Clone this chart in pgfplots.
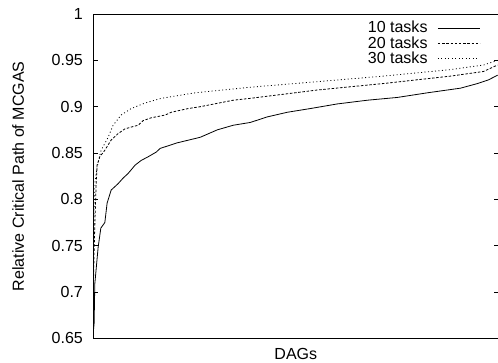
\documentclass[border=0pt]{standalone}
\usepackage{pgfplots}
\pgfplotsset{compat=1.18}
\usepackage{fontspec}
\setmainfont{Liberation Sans}
\begin{document}
\begin{tikzpicture}[font=\fontsize{16}{19}\selectfont]
\begin{axis}[
  scale only axis, width=405pt, height=324pt,
  xmin=0, xmax=405, ymin=0.65, ymax=1,
  xtick=\empty,
  ytick={0.65,0.7,0.75,0.8,0.85,0.9,0.95,1},
  yticklabels={0.65,0.7,0.75,0.8,0.85,0.9,0.95,1},
  tick align=inside, major tick length=5pt,
  ytick pos=both,
  tick style={black, line width=0.6pt},
  axis line style={line width=1pt},
  yticklabel style={inner sep=0pt, xshift=-10pt, font=\fontsize{16}{19}\selectfont},
  xlabel={DAGs}, ylabel={Relative Critical Path of MCGAS},
  every axis x label/.style={at={(axis description cs:0.5,-0.0494)}, anchor=center},
  every axis y label/.style={at={(axis description cs:-0.185,0.5)}, rotate=90, anchor=center},
  legend plot pos=right,
  legend cell align=right,
  legend image code/.code={\draw[#1] (0pt,0pt) -- (42pt,0pt);},
  legend style={draw=none, fill=none, inner sep=0pt, at={(rel axis cs:0.9556,0.981)}, anchor=north east,
    nodes={inner sep=1pt}, row sep=0.2pt, column sep=9pt, font=\fontsize{16}{19}\selectfont},
]
\addplot[black, line width=0.8pt] coordinates {
(0,0.655) (1,0.666) (1.7,0.709) (5,0.748) (7.7,0.769) (11.7,0.775) (14,0.796) (18,0.810) (25,0.817) (30,0.823) (35,0.828) (42,0.837) (48,0.842) (55,0.846) (63,0.851) (67,0.855) (84,0.861) (107,0.867) (124,0.875) (140,0.880) (157,0.883) (174,0.889) (194,0.894) (217,0.898) (244,0.903) (274,0.907) (304,0.910) (334,0.915) (367,0.920) (384,0.925) (395,0.929) (404,0.934)
};
\addlegendentry{10 tasks}
\addplot[black, line width=0.8pt, dash pattern=on 2.5pt off 1.7pt] coordinates {
(0,0.69) (1,0.745) (2,0.783) (3,0.815) (4,0.837) (6.7,0.846) (11.7,0.853) (18,0.864) (25,0.871) (31.7,0.876) (38,0.878) (45,0.880) (50,0.885) (58,0.888) (72,0.891) (78,0.894) (95,0.898) (107,0.900) (140,0.907) (157,0.909) (224,0.918) (290,0.925) (357,0.933) (390,0.938) (404,0.945)
};
\addlegendentry{20 tasks}
\addplot[black, line width=0.8pt, dash pattern=on 1pt off 2.5pt] coordinates {
(0,0.72) (1,0.79) (2,0.82) (4,0.835) (8,0.853) (15,0.867) (20,0.880) (28,0.891) (38,0.898) (52,0.904) (68,0.909) (85,0.912) (102,0.915) (157,0.921) (224,0.927) (290,0.933) (357,0.940) (390,0.945) (404,0.950)
};
\addlegendentry{30 tasks}
\coordinate (sw) at (rel axis cs:0,0);
\coordinate (ne) at (rel axis cs:1,1);
\end{axis}
\pgfresetboundingbox
\path[use as bounding box] ([xshift=-93pt,yshift=-24pt]sw) rectangle ([xshift=-0.6pt,yshift=14pt]ne);
\end{tikzpicture}
\end{document}
